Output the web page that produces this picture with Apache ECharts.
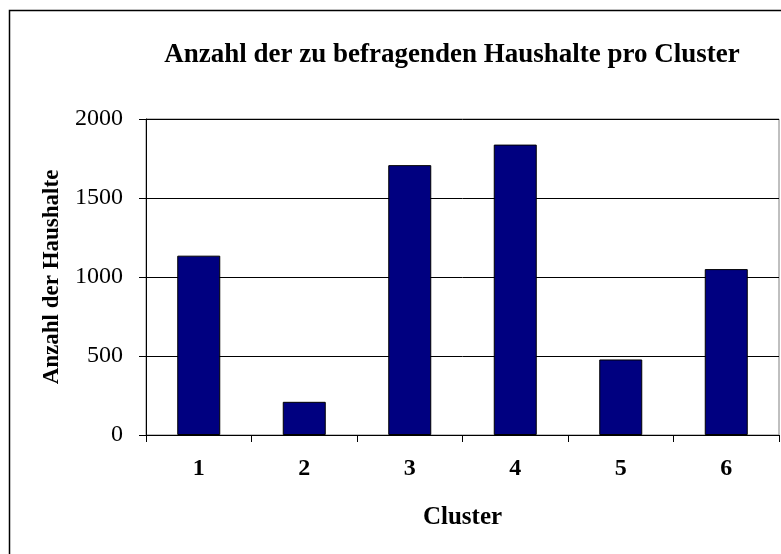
<!DOCTYPE html>
<html><head><meta charset="utf-8">
<script src="https://cdn.jsdelivr.net/npm/echarts@6/dist/echarts.min.js"></script>
<style>html,body{margin:0;padding:0;background:#fff}#c{width:781px;height:554px}</style>
</head><body><div id="c"></div>
<script>
const categories = ['1','2','3','4','5','6'];
const values = [1135, 210, 1708, 1838, 478, 1050];
const yTicks = [0, 500, 1000, 1500, 2000];

const chart = echarts.init(document.getElementById('c'), null, {renderer:'canvas'});
const serif = '"Liberation Serif","Times New Roman",serif';
chart.setOption({
  animation:false,
  backgroundColor:'#fff',
  title:{text:'Anzahl der zu befragenden Haushalte pro Cluster', left:447, top:37, textAlign:'center',
    textStyle:{fontFamily:serif, fontWeight:'bold', fontSize:27, color:'#000'}},
  graphic:[
    {type:'rect', shape:{x:9.5,y:10.5,width:800,height:600}, style:{fill:null, stroke:'#000', lineWidth:1.5}, z:-1},
    {type:'rect', shape:{x:146,y:119,width:633,height:316}, style:{fill:null, stroke:'#808080', lineWidth:1}, z:0}
  ],
  grid:{left:146, top:119, right:2, bottom:119},
  xAxis:{type:'category', data:categories,
    name:'Cluster', nameLocation:'middle', nameGap:70,
    nameTextStyle:{fontFamily:serif, fontWeight:'bold', fontSize:25, color:'#000'},
    axisLine:{lineStyle:{color:'#000', width:1}},
    axisTick:{show:true, length:7, lineStyle:{color:'#000'}},
    axisLabel:{fontFamily:serif, fontWeight:'bold', fontSize:24, color:'#000', margin:22}},
  yAxis:{type:'value', min:0, max:2000, interval:500,
    name:'Anzahl der Haushalte', nameLocation:'middle', nameGap:82,
    nameTextStyle:{fontFamily:serif, fontWeight:'bold', fontSize:23, color:'#000'},
    axisLine:{show:true, lineStyle:{color:'#000', width:1}},
    axisTick:{show:true, length:7, lineStyle:{color:'#000'}},
    axisLabel:{fontFamily:serif, fontSize:24, color:'#000', margin:23,
      formatter:v=>yTicks.includes(v)?String(v):''},
    splitLine:{lineStyle:{color:'#000', width:1}}},
  series:[{type:'bar', data:values, barWidth:43,
    itemStyle:{color:'#000080', borderColor:'#000', borderWidth:1}}]
});
</script></body></html>
